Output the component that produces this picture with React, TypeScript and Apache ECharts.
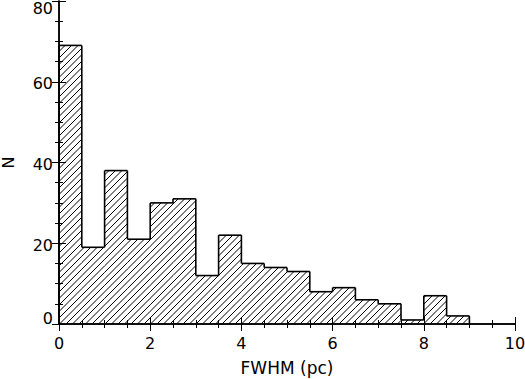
import React, { useEffect, useRef } from "react";
import * as echarts from "echarts";

// Histogram bins (FWHM in pc) and counts N
const binStarts = [0, 0.5, 1, 1.5, 2, 2.5, 3, 3.5, 4, 4.5, 5, 5.5, 6, 6.5, 7, 7.5, 8, 8.5];
const binEnds = [0.5, 1, 1.5, 2, 2.5, 3, 3.5, 4, 4.5, 5, 5.5, 6, 6.5, 7, 7.5, 8, 8.5, 9];
const counts = [69, 19, 38, 21, 30, 31, 12, 22, 15, 14, 13, 8, 9, 6, 5, 1, 7, 2];

const xTitle = "FWHM (pc)";
const yTitle = "N";

const FONT = "DejaVu Sans";
const HATCH = 6.5;

export default function App() {
  const ref = useRef<HTMLDivElement>(null);
  useEffect(() => {
    if (!ref.current) return;
    const chart = echarts.init(ref.current, null, { renderer: "svg" });
    const data = binStarts.map((s, i) => [s, binEnds[i], counts[i], i > 0 ? counts[i - 1] : 0]);
    const last = data.length - 1;

    const renderItem = (params: any, api: any) => {
      const s = api.value(0);
      const e = api.value(1);
      const v = api.value(2);
      const p = api.value(3);
      const a = api.coord([s, 0]);
      const b = api.coord([e, v]);
      const pp = api.coord([s, p]);
      const x0 = a[0], yBase = a[1], x1 = b[0], yTop = b[1];
      const children: any[] = [];
      const cStart = Math.ceil((x0 + yTop) / HATCH) * HATCH;
      for (let c = cStart; c <= x1 + yBase; c += HATCH) {
        const xa = Math.max(x0, c - yBase);
        const xb = Math.min(x1, c - yTop);
        if (xb > xa) {
          children.push({
            type: "line",
            shape: { x1: xa, y1: c - xa, x2: xb, y2: c - xb },
            style: { stroke: "#000", lineWidth: 1 },
          });
        }
      }
      const outline = { stroke: "#000", lineWidth: 1.6 };
      children.push({ type: "line", shape: { x1: x0, y1: yTop, x2: x1, y2: yTop }, style: outline });
      children.push({ type: "line", shape: { x1: x0, y1: pp[1], x2: x0, y2: yTop }, style: outline });
      if (params.dataIndex === last) {
        children.push({ type: "line", shape: { x1: x1, y1: yTop, x2: x1, y2: yBase }, style: outline });
      }
      return { type: "group", children };
    };

    const axisLineStyle = { color: "#000", width: 1.5 };
    const tickStyle = { color: "#000", width: 1 };

    chart.setOption({
      animation: false,
      backgroundColor: "#fff",
      grid: { left: 59, right: 10, top: 1, bottom: 55, containLabel: false, outerBoundsMode: "none" },
      xAxis: [
        {
          type: "value",
          min: 0,
          max: 10,
          interval: 2,
          position: "bottom",
          axisLine: { show: true, lineStyle: axisLineStyle },
          axisTick: { show: true, inside: true, length: 7, lineStyle: tickStyle },
          minorTick: { show: true, splitNumber: 4, length: 4, lineStyle: tickStyle },
          splitLine: { show: false },
          axisLabel: { color: "#000", fontSize: 16, fontFamily: FONT, margin: 11 },
          name: xTitle,
          nameLocation: "middle",
          nameGap: 35,
          nameTextStyle: { color: "#000", fontSize: 17, fontFamily: FONT },
        },
        {
          type: "value",
          min: 0,
          max: 10,
          interval: 2,
          position: "top",
          axisLine: { show: true, lineStyle: axisLineStyle },
          axisTick: { show: true, inside: true, length: 7, lineStyle: tickStyle },
          minorTick: { show: true, splitNumber: 4, length: 4, lineStyle: tickStyle },
          splitLine: { show: false },
          axisLabel: { show: false },
        },
      ],
      yAxis: [
        {
          type: "value",
          min: 0,
          max: 80,
          interval: 20,
          position: "left",
          axisLine: { show: true, lineStyle: axisLineStyle },
          axisTick: { show: true, inside: true, length: 7, lineStyle: tickStyle },
          minorTick: { show: true, splitNumber: 4, length: 4, lineStyle: tickStyle },
          splitLine: { show: false },
          axisLabel: {
            color: "#000",
            fontSize: 16,
            fontFamily: FONT,
            margin: 6,
            formatter: (v: number) => (v === 80 ? `{t|${v}}` : v === 0 ? `{b|${v}}` : `{m|${v}}`),
            rich: {
              t: { fontSize: 16, fontFamily: FONT, color: "#000", padding: [14, 0, 0, 0] },
              m: { fontSize: 16, fontFamily: FONT, color: "#000", padding: [4, 0, 0, 0] },
              b: { fontSize: 16, fontFamily: FONT, color: "#000", padding: [0, 0, 12, 0] },
            },
          },
          name: yTitle,
          nameLocation: "middle",
          nameGap: 43,
          nameRotate: 90,
          nameTextStyle: { color: "#000", fontSize: 16, fontFamily: FONT },
        },
        {
          type: "value",
          min: 0,
          max: 80,
          interval: 20,
          position: "right",
          axisLine: { show: true, lineStyle: axisLineStyle },
          axisTick: { show: true, inside: true, length: 7, lineStyle: tickStyle },
          minorTick: { show: true, splitNumber: 4, length: 4, lineStyle: tickStyle },
          splitLine: { show: false },
          axisLabel: { show: false },
        },
      ],
      series: [
        {
          type: "custom",
          xAxisIndex: 0,
          yAxisIndex: 0,
          renderItem,
          encode: { x: [0, 1], y: 2 },
          data,
          silent: true,
        },
      ],
    });
    return () => chart.dispose();
  }, []);
  return <div ref={ref} style={{ width: 525, height: 379, position: "absolute", left: 0, top: 0 }} />;
}
